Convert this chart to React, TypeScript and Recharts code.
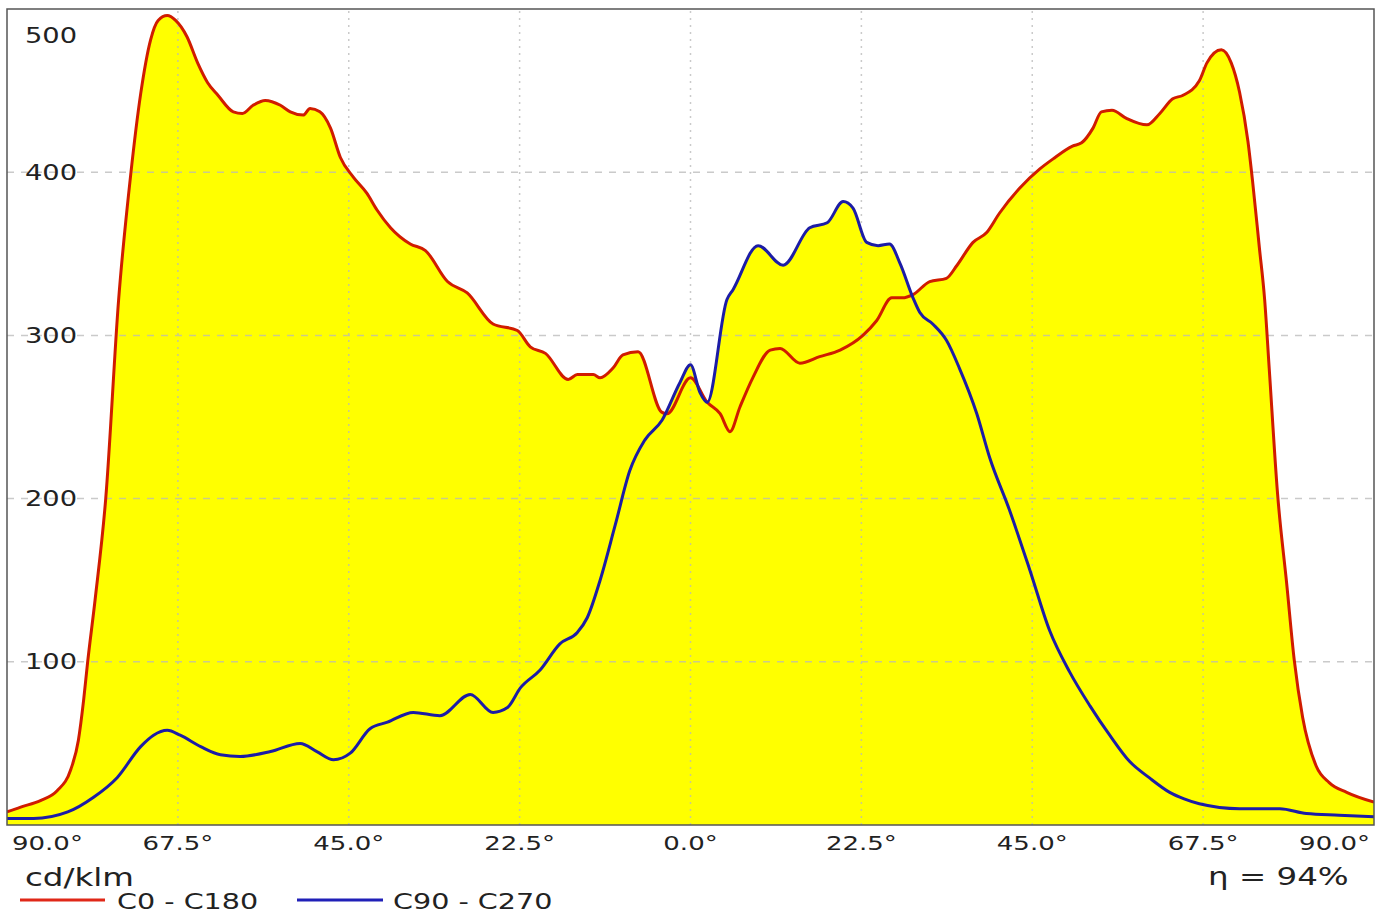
import React from 'react';
import { ComposedChart, Area, Line, XAxis, YAxis, ReferenceLine } from 'recharts';

// C0 - C180 plane (red), angle in degrees, value in cd/klm
const redAngles = [
  -90, -88.2, -85.6, -83.4, -81.6, -80.6, -79.9, -79.4, -78.4, -77.0, -75.3, -73.7, -72.4, -71.1, -70.1,
  -68.9, -67.8, -66.3, -64.9, -63.6, -62.2, -60.2, -59.0, -57.6, -56.0, -54.0, -52.7, -51.0, -50.1, -48.8,
  -47.4, -46.1, -44.4, -42.6, -41.3, -39.5, -36.9, -34.9, -32.0, -29.4, -26.0, -22.8, -21.1, -19.1, -16.1,
  -14.9, -12.8, -11.9, -10.2, -8.9, -6.9, -3.8, -3.1, 0, 2.2, 3.9, 5.2, 6.5, 8.2, 10.5, 11.8, 14.4, 17.0,
  19.7, 22.7, 24.5, 26.5, 27.9, 29.3, 31.5, 33.7, 35.1, 37.2, 39.0, 40.7, 43.3, 46.0, 47.7, 50.3, 51.5,
  53.0, 54.1, 55.5, 57.4, 60.1, 61.8, 63.5, 64.8, 67.0, 68.0, 69.9, 71.2, 72.3, 73.4, 74.0, 74.9, 75.6,
  76.2, 77.3, 78.5, 79.5, 80.6, 82.4, 84.1, 86.4, 90,
];
const redValues = [
  8, 11, 15, 21, 34, 52, 77, 99, 138, 200, 322, 399, 448, 481, 493,
  496, 493, 483, 467, 455, 447, 437, 436, 441, 444, 441, 437, 435, 439, 437,
  427, 409, 397, 387, 377, 366, 356, 352, 333, 326, 307, 303, 293, 289, 273,
  276, 276, 274, 280, 288, 290, 253, 252, 274, 259, 252, 241, 256, 274, 291, 292, 283, 287,
  291, 300, 309, 323, 323, 325, 333, 335, 343, 357, 363, 375, 390, 402, 408, 416, 418,
  427, 437, 438, 433, 429, 436, 445, 447, 456, 467, 475, 467, 449, 419, 395, 354, 322,
  280, 203, 148, 101, 66, 36, 26, 20, 14,
];

// C90 - C270 plane (blue)
const blueAngles = [
  -90, -86.5, -82.0, -78.6, -75.5, -72.4, -70.7, -68.9, -67.2, -64.5, -61.9, -59.3, -55.3, -51.4, -49.2,
  -47.0, -44.8, -42.2, -39.9, -36.5, -33.0, -29.0, -26.0, -24.1, -22.4, -19.8, -17.2, -14.9, -13.6, -11.9,
  -9.9, -8.0, -6.0, -3.75, -1.4, 0, 1.25, 2.2, 4.8, 5.6, 8.9, 12.2, 15.7, 18.0, 20.1, 21.4, 23.2, 24.7,
  26.2, 27.6, 29.3, 30.2, 31.9, 33.7, 35.4, 37.7, 39.4, 42.0, 44.7, 47.3, 49.9, 52.6, 55.2, 57.8, 60.4,
  63.1, 65.0, 67.0, 72.3, 77.6, 81.1, 85.4, 90,
];
const blueValues = [
  4, 4, 8, 17, 29, 48, 55, 58, 55, 48, 43, 42, 45, 50, 45,
  40, 44, 59, 63, 69, 67, 80, 69, 72, 84, 95, 111, 118, 127, 150,
  184, 217, 236, 248, 271, 282, 265, 259, 322, 328, 355, 343, 366, 369, 382, 378, 357, 355,
  356, 344, 323, 314, 307, 297, 280, 252, 225, 193, 156, 119, 94, 73, 55, 39, 29,
  20, 16, 13, 10, 10, 7, 6, 5,
];

const xTicks = [-90, -67.5, -45, -22.5, 0, 22.5, 45, 67.5, 90];
const yTicks = [100, 200, 300, 400, 500];
const gridY = [100, 200, 300, 400];
const gridX = [-67.5, -45, -22.5, 0, 22.5, 45, 67.5];

const redData = redAngles.map((angle, i) => ({ angle, v: redValues[i] }));
const blueData = blueAngles.map((angle, i) => ({ angle, v: blueValues[i] }));

const FONT = '"DejaVu Sans", Verdana, sans-serif';
const TEXT = '#222222';
const RED = '#d01c00';
const BLUE = '#1c1ca6';
const STRETCH = 1.3;

const XTick = (props: any) => {
  const { x, payload } = props;
  const v = payload.value;
  let anchor = 'middle';
  let tx = x;
  if (v === -90) { anchor = 'start'; tx = 12; }
  if (v === 90) { anchor = 'end'; tx = 1370; }
  return (
    <text transform={`translate(${tx},850) scale(${STRETCH},1)`} textAnchor={anchor}
      fontSize={20} fontFamily={FONT} fill={TEXT}>
      {Math.abs(v).toFixed(1)}°
    </text>
  );
};

const YTick = (props: any) => {
  const { y, payload } = props;
  const ty = payload.value === 500 ? 35 : y;
  return (
    <text transform={`translate(25,${ty + 7.5}) scale(${STRETCH},1)`} textAnchor="start"
      fontSize={21} fontFamily={FONT} fill={TEXT}>
      {payload.value}
    </text>
  );
};

const Label = ({ x, y, size, children }: any) => (
  <text transform={`translate(${x},${y}) scale(${STRETCH},1)`} fontSize={size} fontFamily={FONT} fill={TEXT}>
    {children}
  </text>
);

export default function App() {
  return (
    <div style={{ position: 'absolute', left: 0, top: 0, width: 1392, height: 917, background: '#fff' }}>
      <ComposedChart width={1392} height={917} margin={{ top: 9, right: 18, bottom: 52, left: 6 }}>
        <XAxis type="number" dataKey="angle" domain={[-90, 90]} ticks={xTicks} allowDataOverflow
          height={40} axisLine={false} tickLine={false} tick={<XTick />} interval={0} />
        <YAxis type="number" domain={[0, 500]} ticks={yTicks} width={1} axisLine={false}
          tickLine={false} tick={<YTick />} interval={0} />
        <Area data={redData} dataKey="v" type="monotone" stroke="none" fill="#ffff00" fillOpacity={1}
          isAnimationActive={false} />
        <Area data={blueData} dataKey="v" type="monotone" stroke="none" fill="#ffff00" fillOpacity={1}
          isAnimationActive={false} />
        {gridY.map((v) => (
          <ReferenceLine key={`gy${v}`} y={v} stroke="#b8b8b8" strokeOpacity={0.75} strokeWidth={1.5}
            strokeDasharray="7 7" />
        ))}
        {gridX.map((v) => (
          <ReferenceLine key={`gx${v}`} x={v} stroke="#b8b8b8" strokeOpacity={0.75} strokeWidth={1.5}
            strokeDasharray="2 5" />
        ))}
        <Line data={redData} dataKey="v" type="monotone" stroke={RED} strokeWidth={3} dot={false}
          isAnimationActive={false} />
        <Line data={blueData} dataKey="v" type="monotone" stroke={BLUE} strokeWidth={3} dot={false}
          isAnimationActive={false} />
      </ComposedChart>
      <svg width={1392} height={917} style={{ position: 'absolute', left: 0, top: 0, pointerEvents: 'none' }}>
        <rect x={7} y={9} width={1367} height={816} fill="none" stroke="#555" strokeWidth={1.5} />
        <Label x={25} y={886} size={25}>cd/klm</Label>
        <line x1={20} y1={900} x2={105} y2={900} stroke="#e02818" strokeWidth={3} />
        <Label x={117} y={909} size={22}>C0 - C180</Label>
        <line x1={297} y1={900} x2={383} y2={900} stroke="#2020b8" strokeWidth={3} />
        <Label x={393} y={909} size={22}>C90 - C270</Label>
        <Label x={1208} y={885} size={25}>η = 94%</Label>
      </svg>
    </div>
  );
}
